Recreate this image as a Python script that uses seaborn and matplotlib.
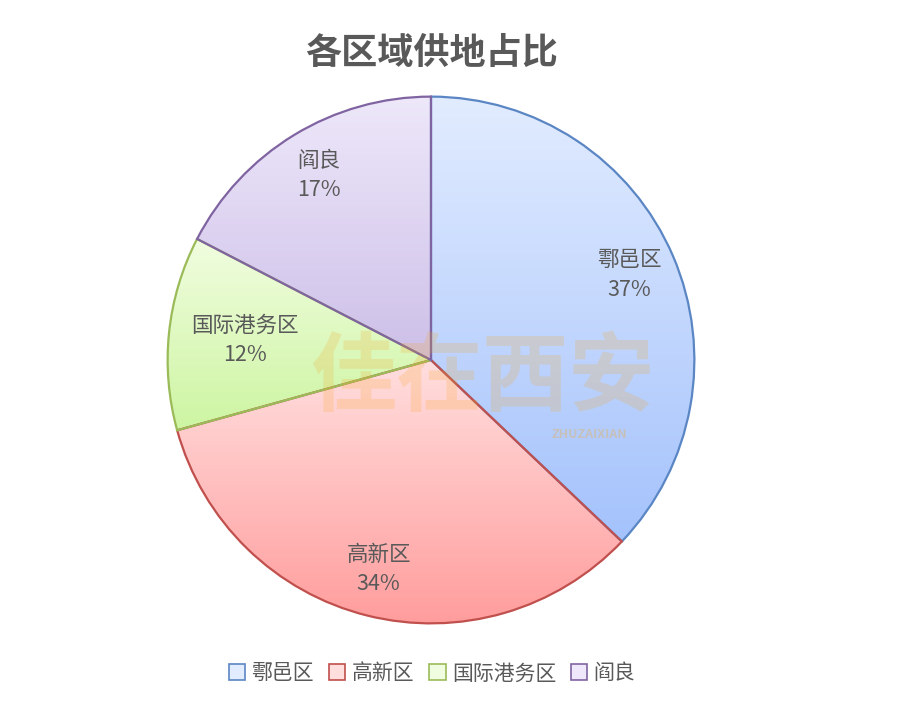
import numpy as np
import matplotlib
matplotlib.use("Agg")
import matplotlib.pyplot as plt
import seaborn as sns
from matplotlib.colors import LinearSegmentedColormap
from matplotlib.patches import Rectangle

sns.set_theme(style="white")
plt.rcParams['font.family'] = ['Noto Sans CJK SC', 'DejaVu Sans']

categories = ["鄠邑区", "高新区", "国际港务区", "阎良"]
values = [37.1, 33.6, 11.9, 17.4]
title = "各区域供地占比"

top_colors = ["#e2ecff", "#ffdede", "#f1fde0", "#eee8fa"]
bottom_colors = ["#a4c2fc", "#ff9c9c", "#cdf5a2", "#cdbfe8"]
edge_colors = ["#5b86c4", "#c0504d", "#9bbb59", "#8064a2"]
label_dist = [0.82, 0.82, 0.71, 0.82]

fig = plt.figure(figsize=(9, 7.08), dpi=100)
W, H = 900, 708
cx, cy, r = 431, 360, 266
ax = fig.add_axes([(cx - r) / W, (H - cy - r) / H, 2 * r / W, 2 * r / H])

wedges, texts, autotexts = ax.pie(
    values, startangle=90, counterclock=False, radius=1,
    autopct="%.0f%%", pctdistance=0.82,
    wedgeprops=dict(linewidth=1.6),
    textprops=dict(fontsize=15.5, color="#595959"),
)
ax.set_aspect("equal")
ax.axis("off")

for w, tc, bc, ec in zip(wedges, top_colors, bottom_colors, edge_colors):
    w.set_facecolor("none")
    w.set_edgecolor(ec)
    w.set_zorder(3)
    v = w.get_path().vertices
    x0, x1 = v[:, 0].min(), v[:, 0].max()
    y0, y1 = v[:, 1].min(), v[:, 1].max()
    cmap = LinearSegmentedColormap.from_list("g", [bc, tc])
    grad = np.linspace(0, 1, 256).reshape(-1, 1)
    im = ax.imshow(grad, cmap=cmap, extent=[x0, x1, y0, y1], origin="lower",
                   aspect="auto", zorder=1, interpolation="bilinear")
    im.set_clip_path(w)

ax.set_xlim(-1.01, 1.01)
ax.set_ylim(-1.01, 1.01)

for t, w, cat, d in zip(autotexts, wedges, categories, label_dist):
    t.set_text(f"{cat}\n{t.get_text()}")
    t.set_linespacing(1.45)
    t.set_zorder(5)
    ang = np.deg2rad((w.theta1 + w.theta2) / 2)
    t.set_position((d * np.cos(ang), d * np.sin(ang)))

# watermark
fig.text(0.536, 0.465, "佳在西安", fontsize=62, fontweight="bold", style="italic",
         color="#f5a623", alpha=0.2, ha="center", va="center", zorder=4)
fig.text(0.655, 0.386, "ZHUZAIXIAN", fontsize=9, fontweight="bold", style="italic",
         color="#f5a623", alpha=0.3, ha="center", va="center", zorder=4)

fig.suptitle(title, x=0.48, y=0.95, fontsize=26, fontweight="bold", color="#595959")

handles = [Rectangle((0, 0), 1, 1, facecolor=tc, edgecolor=ec, linewidth=1.2)
           for tc, ec in zip(top_colors, edge_colors)]
fig.legend(handles, categories, loc="center", bbox_to_anchor=(0.48, 0.049), ncol=4,
           frameon=False, fontsize=15, handlelength=0.8, handleheight=0.8,
           handletextpad=0.3, columnspacing=0.7, labelcolor="#595959")

fig.savefig("out.png", dpi=100, facecolor="white")
